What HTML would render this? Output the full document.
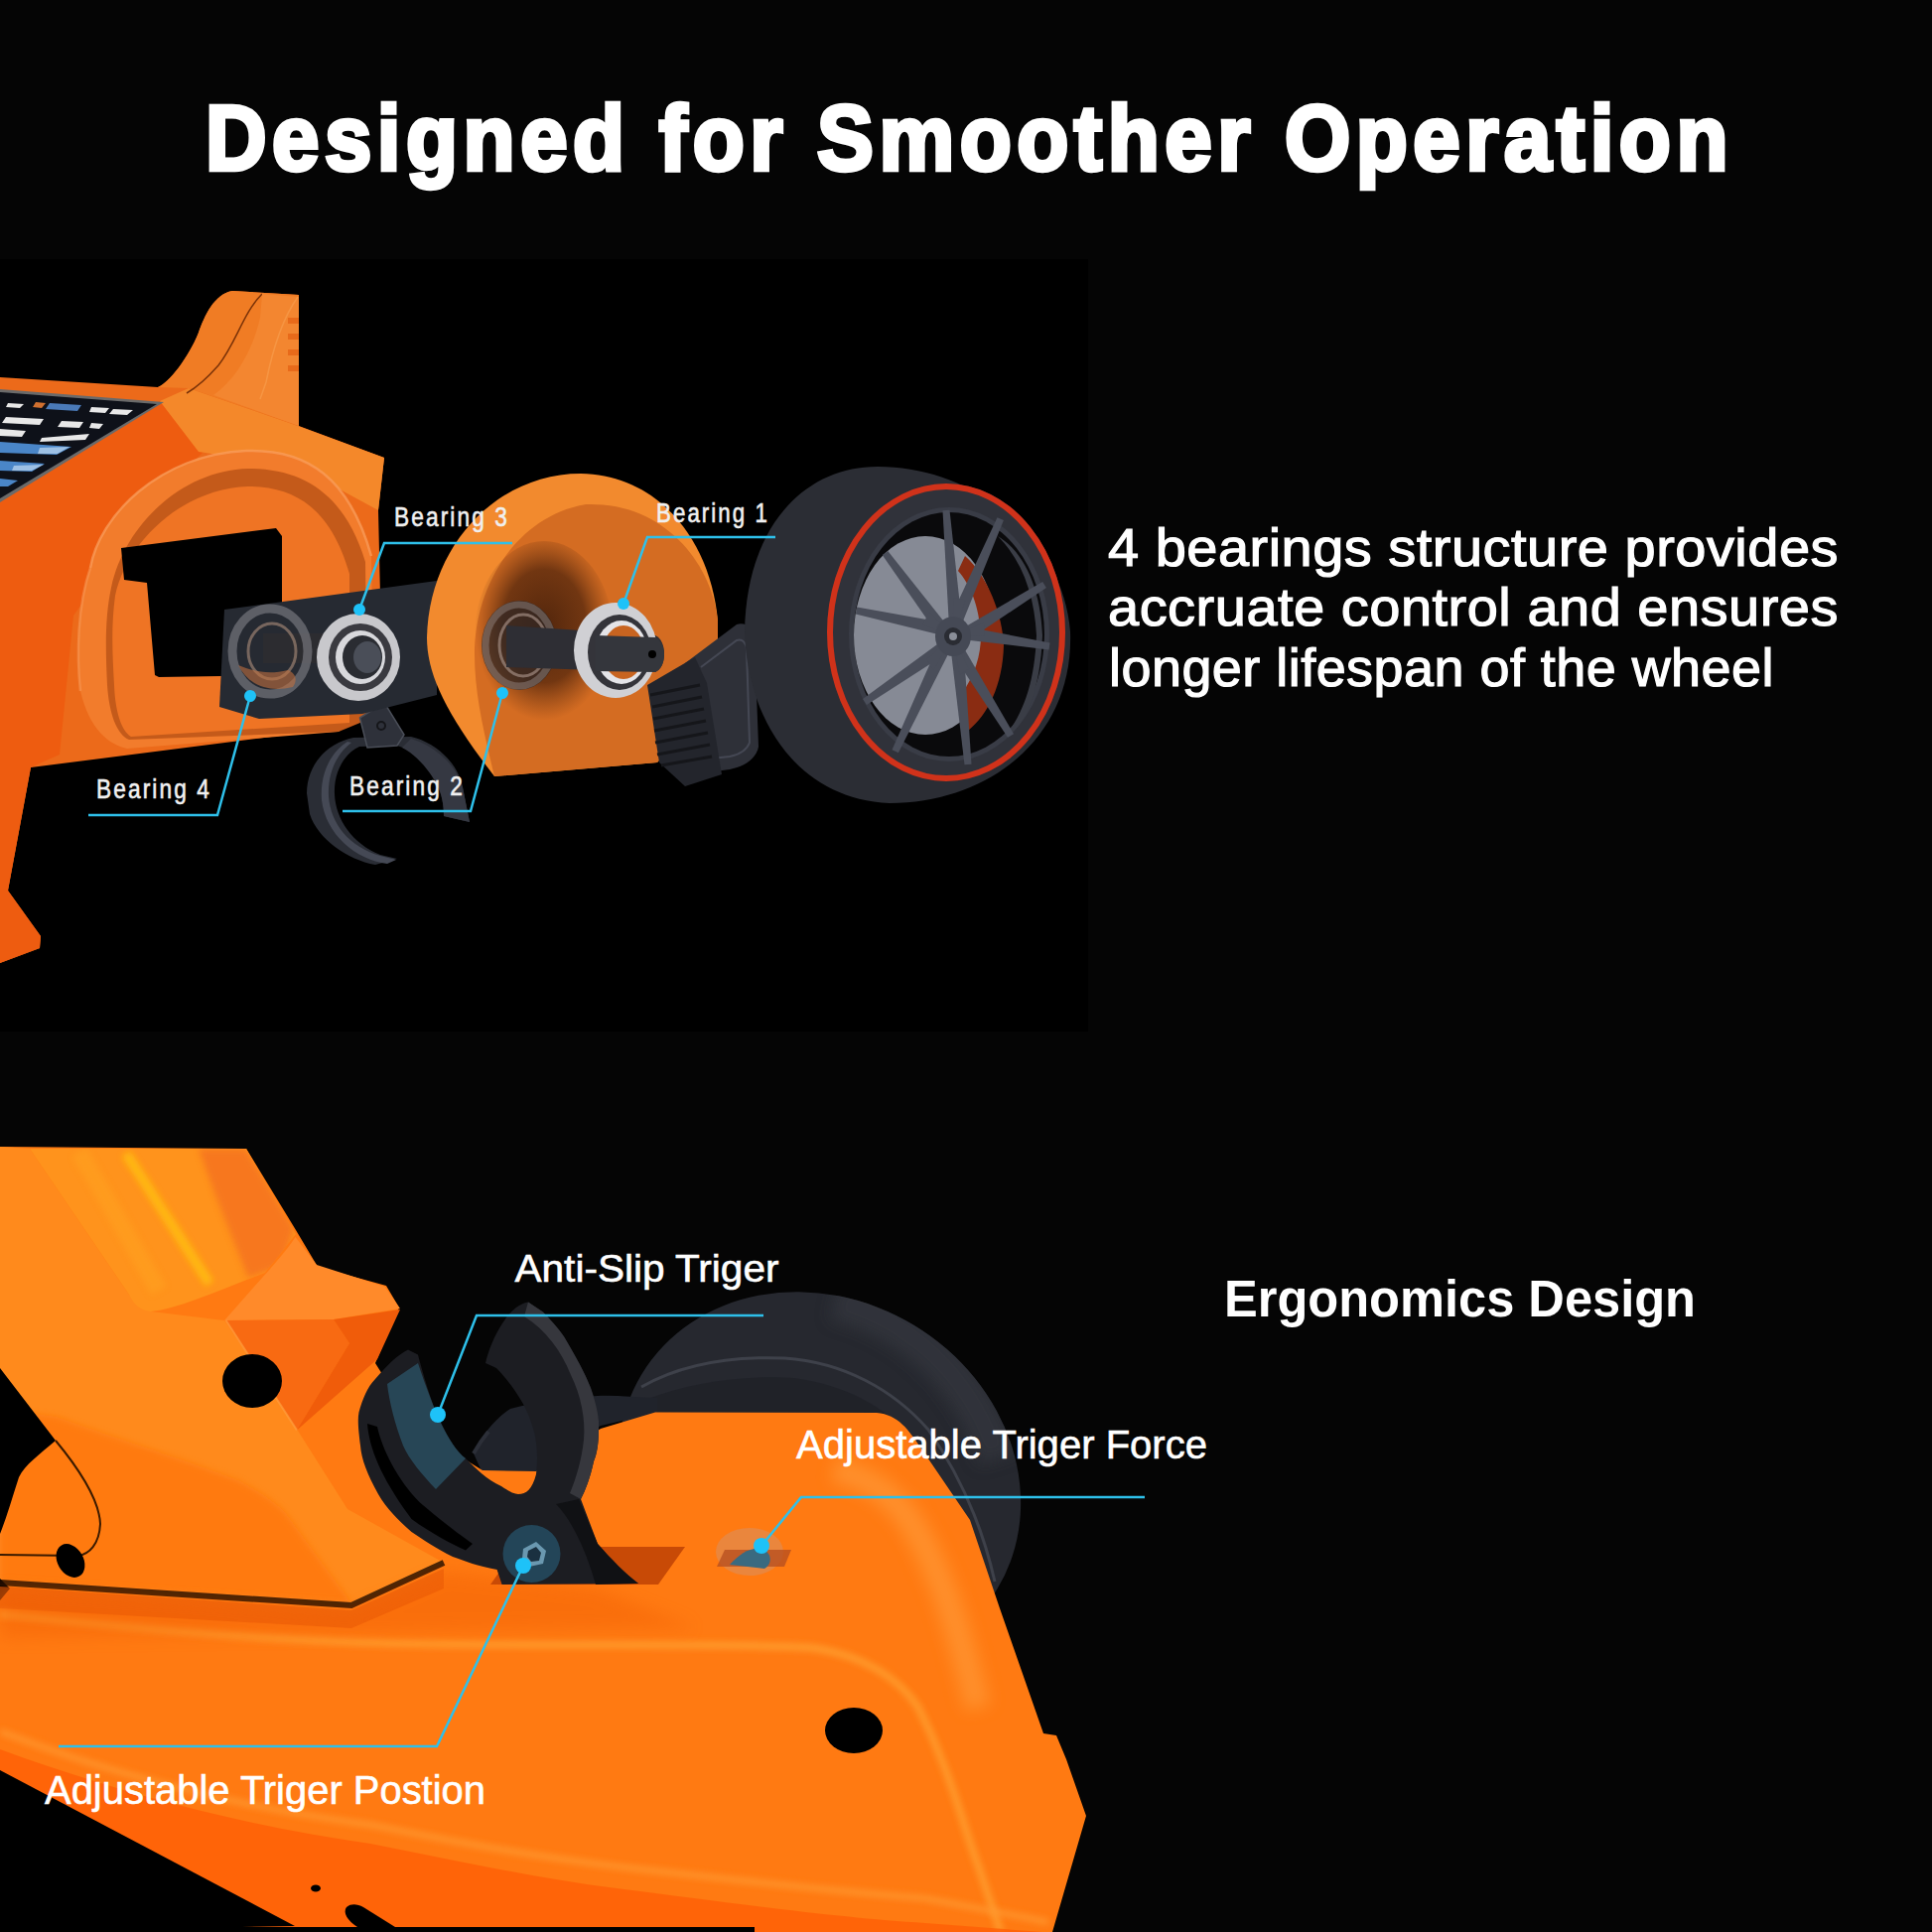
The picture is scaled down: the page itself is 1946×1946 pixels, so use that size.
<!DOCTYPE html>
<html><head><meta charset="utf-8">
<style>
html,body{margin:0;padding:0;background:#050505;width:1946px;height:1946px;overflow:hidden}
svg{display:block}
text{font-family:"Liberation Sans",sans-serif}
</style></head>
<body>
<svg width="1946" height="1946" viewBox="0 0 1946 1946">
<defs>
<radialGradient id="hshadow" cx="0.5" cy="0.45" r="0.5">
<stop offset="0" stop-color="#2a1005" stop-opacity="0.95"/>
<stop offset="0.6" stop-color="#3a1808" stop-opacity="0.8"/>
<stop offset="1" stop-color="#5a2a10" stop-opacity="0"/>
</radialGradient>
<filter id="blur8" x="-50%" y="-50%" width="200%" height="200%"><feGaussianBlur stdDeviation="8"/></filter>
<filter id="blur3" x="-50%" y="-50%" width="200%" height="200%"><feGaussianBlur stdDeviation="3"/></filter>
<clipPath id="tireclip"><ellipse cx="825.3" cy="1492.5" rx="209.2" ry="184.3" transform="rotate(31.1 825.3 1492.5)"/></clipPath>
<clipPath id="panelclip"><path d="M30,1157 L248,1157 L298,1243 L267,1282 C220,1300 180,1318 152,1321 C140,1320 134,1312 130,1304 Z"/></clipPath>
</defs>
<rect x="0" y="0" width="1946" height="1946" fill="#050505"/>
<!-- top photo area -->
<rect x="0" y="261" width="1096" height="778" fill="#000"/>

<g id="upper">
<!-- main body -->
<path d="M0,380 L159,390 C170,386 190,360 200,335 C206,318 216,296 234,293 L301,297 L301,429 L387,461 L381,514 L383,600 L300,620 L345,733 L31,773 L8,897 L41,943 L40,955 L0,970 Z" fill="#ec6a1a"/>
<!-- darker left face -->
<path d="M0,500 L161,404 L230,430 L160,500 L74,620 L60,760 L31,773 L8,897 L41,943 L40,955 L0,970 Z" fill="#ee5c10"/>
<!-- top face lighter -->
<path d="M161,404 L190,391 L300,429 L387,461 L381,514 L300,470 L200,455 Z" fill="#f4882a"/>
<!-- fin -->
<path d="M159,390 C170,386 190,360 200,335 C206,318 216,296 234,293 L301,297 L301,429 L190,391 Z" fill="#f07c24"/>
<path d="M264,296 C245,315 238,345 220,368 C205,385 195,392 188,396" stroke="#7a3208" stroke-width="1.5" fill="none"/>
<path d="M264,296 L301,299 L301,429 L215,398 C240,380 255,350 262,320 Z" fill="#f38630"/>
<path d="M300,299 C285,320 275,350 268,385 L262,402" stroke="#f9a050" stroke-width="1.5" fill="none" opacity="0.6"/>
<g fill="#e86a1a"><rect x="290" y="320" width="11" height="6"/><rect x="290" y="336" width="11" height="6"/><rect x="290" y="352" width="11" height="6"/><rect x="290" y="368" width="11" height="6"/></g>
<!-- screen -->
<path d="M0,392 L165,405 L0,506 Z" fill="#6a6a6a"/>
<path d="M0,395 L158,407 L0,502 Z" fill="#0e1119"/>
<g fill="#e8e8e8">
<path d="M8,406 L24,407 L20,411 L6,410 Z"/>
<path d="M92,410 L110,411 L106,416 L90,415 Z"/>
<path d="M114,412 L134,413 L128,418 L110,417 Z"/>
<path d="M6,420 L44,422 L40,428 L2,426 Z"/>
<path d="M0,432 L26,434 L22,440 L0,439 Z"/>
<path d="M62,424 L84,425 L80,431 L58,430 Z"/>
<path d="M92,426 L104,427 L100,432 L90,431 Z"/>
<path d="M42,441 L90,437 L86,443 L40,445 Z"/>
</g>
<path d="M36,405 L46,406 L42,411 L33,410 Z" fill="#d07030"/>
<path d="M50,406 L82,408 L78,414 L46,412 Z" fill="#4a7ab8"/>
<path d="M0,445 L72,450 L57,458 L0,456 Z" fill="#4a86c8"/>
<path d="M0,464 L45,467 L32,475 L0,474 Z" fill="#4a86c8"/>
<path d="M0,482 L18,484 L8,490 L0,490 Z" fill="#4a86c8"/>
<path d="M40,451 L70,450 L58,457 L38,457 Z" fill="#c0d8f0" opacity="0.7"/>
<path d="M14,469 L44,468 L32,474 L12,474 Z" fill="#c0d8f0" opacity="0.7"/>
<!-- ring recess -->
<path d="M91,572 C100,520 160,458 248,454 C310,452 352,482 374,560 L376,700 L341,737 L128,754 C110,750 90,735 81,696 C77,660 78,610 91,572 Z" fill="#f27c2c"/>
<path d="M91,572 C100,520 160,458 248,454 C310,452 352,482 374,560" stroke="#f9a060" stroke-width="2.5" fill="none" opacity="0.7"/>
<path d="M81,696 C77,660 78,610 91,572" stroke="#f9a060" stroke-width="2.5" fill="none" opacity="0.5"/>
<path d="M112,592 C125,530 182,474 250,472 C308,472 348,500 368,566 L370,725 L341,737 L130,745 C118,740 110,720 108,690 C106,650 106,620 112,592 Z" fill="#c45a1a"/>
<path d="M116,600 C128,545 184,492 250,490 C300,490 334,515 352,578 L352,728 L132,742 C122,736 116,716 115,690 C113,655 112,630 116,600 Z" fill="#ef7424"/>
<!-- rectangular hole -->
<path d="M122,552 L278,532 L284,540 L284,680 L160,682 L156,680 L148,587 L125,584 Z" fill="#000"/>
<!-- trigger C -->
<path d="M309,799 C309,770 330,748 356,743 L414,742 C440,748 462,770 466,793 L473,828 L447,822 C447,810 445,800 440,790 C430,770 415,755 400,751 L362,752 C345,760 336,780 337,800 C338,825 355,850 383,861 L400,865 L378,871 C350,866 320,845 312,820 Z" fill="#2a2d35"/>
<path d="M354,748 C338,760 330,780 331,802 C333,830 352,853 383,862 L399,866 L390,870 C358,866 328,840 324,806 C322,778 334,757 350,747 Z" fill="#454955"/>
<path d="M447,822 C447,810 445,800 440,790 C430,772 418,760 405,753 L414,744 C440,752 460,772 466,793 L473,828 Z" fill="#353842"/>
<path d="M362.5,723 L387,707.6 L407,740 L400,751 L370,753 Z" fill="#2e313a" stroke="#4a4e58" stroke-width="1.5"/>
<circle cx="384" cy="731" r="4" fill="none" stroke="#15161a" stroke-width="2"/>
<!-- block -->
<path d="M226,614 L440,585 L440,700 L365,719 L261,724 L221,712 Z" fill="#262a32"/>
<!-- bearing 4 (transparent) -->
<rect x="265" y="638" width="100" height="30" fill="#2c2c30"/>
<ellipse cx="272" cy="656" rx="38" ry="43" fill="none" stroke="#8a8a92" stroke-width="9" opacity="0.55"/>
<ellipse cx="274" cy="656" rx="24" ry="28" fill="none" stroke="#9a8070" stroke-width="3" opacity="0.7"/>
<path d="M240,670 C250,690 270,698 295,692 C300,685 298,678 290,675 C270,680 255,676 240,670 Z" fill="#c07040" opacity="0.6"/>
<!-- bearing 3 -->
<ellipse cx="361" cy="662" rx="42" ry="44" fill="#c8c8cc"/>
<ellipse cx="363" cy="662" rx="32" ry="34" fill="#3a3a40"/>
<ellipse cx="363" cy="662" rx="25" ry="27" fill="#d8d8dc"/>
<ellipse cx="365" cy="662" rx="20" ry="22" fill="#2a2c32"/>
<ellipse cx="370" cy="662" rx="14" ry="16" fill="#4a4e58"/>
<!-- housing -->
<path d="M585,477 C660,478 715,540 723,625 L723,700 L662,768 L498,782 C450,720 430,680 430,642 C432,550 500,477 585,477 Z" fill="#f28a2e"/>
<path d="M590,508 C670,505 718,570 723,625 L723,700 L662,768 L498,782 C488,740 478,700 478,659 C478,590 520,520 590,508 Z" fill="#d46c22"/>
<ellipse cx="548" cy="640" rx="70" ry="95" fill="url(#hshadow)" opacity="0.8"/>
<!-- bearing 2 -->
<ellipse cx="523" cy="650" rx="38" ry="45" fill="#2c2626" opacity="0.7"/>
<ellipse cx="523" cy="650" rx="34" ry="41" fill="none" stroke="#9a8c88" stroke-width="7" opacity="0.45"/>
<ellipse cx="527" cy="650" rx="24" ry="31" fill="none" stroke="#a08a80" stroke-width="3" opacity="0.7"/>
<!-- shaft -->
<path d="M510,630 L660,640 C672,645 672,672 660,677 L510,672 Z" fill="#2e2e34"/>
<!-- bearing 1 -->
<ellipse cx="620" cy="655" rx="42" ry="48" fill="#d0d0d4"/>
<ellipse cx="624" cy="657" rx="32" ry="38" fill="#34343a"/>
<ellipse cx="626" cy="657" rx="26" ry="32" fill="#e4e4e8"/>
<ellipse cx="628" cy="657" rx="21" ry="27" fill="#c86420"/>
<path d="M600,640 L660,642 C672,647 672,672 660,677 L600,676 Z" fill="#34363c"/>
<circle cx="657" cy="659" r="4" fill="#000"/>
<!-- gear knuckle -->
<path d="M690,668 L742,629 C752,626 760,634 760,645 L764,752 C762,764 750,772 735,775 L712,778 L700,690 Z" fill="#2e3038"/>
<path d="M706,672 L742,645 C748,643 752,648 752,655 L755,748 C752,756 745,760 735,762 L716,764" stroke="#454854" stroke-width="2" fill="none"/>
<path d="M652,690 L700,662 L712,688 L727,780 L690,792 L664,768 Z" fill="#23252c"/>
<g stroke="#15161a" stroke-width="3">
<line x1="655" y1="700" x2="705" y2="690"/><line x1="657" y1="712" x2="707" y2="702"/><line x1="658" y1="724" x2="709" y2="714"/>
<line x1="659" y1="736" x2="711" y2="726"/><line x1="660" y1="748" x2="713" y2="738"/><line x1="662" y1="760" x2="715" y2="750"/>
<line x1="666" y1="771" x2="717" y2="762"/>
</g>
<!-- tire -->
<path d="M884,470 C980,470 1070,540 1078,636 C1082,740 1000,808 896,809 C800,805 752,720 750,636 C752,530 810,470 884,470 Z" fill="#2b2d34"/>
<ellipse cx="953" cy="637" rx="120" ry="150" fill="#30323a"/>
<ellipse cx="953" cy="637" rx="117" ry="147" fill="none" stroke="#d0321a" stroke-width="6"/>
<ellipse cx="956" cy="639" rx="101" ry="128" fill="#393c46"/>
<ellipse cx="956" cy="639" rx="96" ry="123" fill="#0a0a0c"/>
<path d="M1005,540 C1030,565 1042,600 1044,640 C1042,690 1030,720 1010,745 C1030,735 1048,700 1050,640 C1048,590 1030,555 1005,540 Z" fill="#3a3d46"/>
<ellipse cx="932" cy="640" rx="72" ry="100" fill="#868a95"/>
<path d="M972,560 C995,580 1010,620 1011,650 C1010,690 995,720 975,736 L968,700 C982,680 988,660 988,640 C986,610 978,590 965,575 Z" fill="#8a2c12"/>
<g fill="#4a4e5a"><path d="M968.8,626.7 L956.5,513.7 L949.5,514.3 L955.8,627.7 Z"/><path d="M968.3,629.8 L1010.9,524.1 L1004.5,521.3 L956.3,624.6 Z"/><path d="M960.0,641.0 L960.2,602.3 L972.3,604.2 Z"/><path d="M977.1,643.5 L1053.9,592.0 L1050.1,586.0 L970.2,632.5 Z"/><path d="M972.7,644.4 L1056.5,654.5 L1057.5,647.5 L974.7,631.5 Z"/><path d="M960.0,641.0 L990.9,627.2 L992.0,640.8 Z"/><path d="M958.7,657.8 L1015.0,742.8 L1021.0,739.2 L969.8,650.9 Z"/><path d="M957.8,654.9 L971.5,770.3 L978.5,769.7 L970.7,653.7 Z"/><path d="M960.0,641.0 L976.1,673.4 L966.6,679.8 Z"/><path d="M945.3,649.1 L898.5,755.2 L904.9,758.2 L957.1,654.7 Z"/><path d="M947.5,646.5 L869.0,704.1 L873.0,709.9 L954.9,657.2 Z"/><path d="M960.0,641.0 L940.3,674.9 L933.5,664.0 Z"/><path d="M949.7,626.9 L863.2,611.6 L861.8,618.4 L947.0,639.6 Z"/><path d="M953.5,629.4 L894.3,554.9 L888.7,559.1 L943.1,637.2 Z"/><path d="M960.0,641.0 L929.4,629.2 L935.8,616.5 Z"/></g>
<ellipse cx="960" cy="641" rx="18" ry="20" fill="#454955"/>
<circle cx="960" cy="641" r="9" fill="#2a2c33"/>
<circle cx="960" cy="641" r="4" fill="#8a8e98"/>
</g>

<g id="lower">
<!-- back tire -->
<ellipse cx="825.3" cy="1492.5" rx="209.2" ry="184.3" transform="rotate(31.1 825.3 1492.5)" fill="#26282f"/>
<g clip-path="url(#tireclip)"><path d="M840,1310 C920,1330 980,1390 1005,1470" stroke="#383a43" stroke-width="40" fill="none" opacity="0.6" filter="url(#blur8)"/></g>
<path d="M646,1397 C690,1372 740,1366 790,1368 C850,1372 900,1400 935,1440 C970,1490 990,1540 1002,1593" stroke="#3e414a" stroke-width="3" fill="none"/>
<path d="M650,1410 C700,1390 760,1385 800,1388 C850,1395 890,1415 920,1450 C950,1500 975,1560 990,1600 L700,1600 Z" fill="#1c1e24" opacity="0.6"/>
<!-- arm connecting trigger to tire -->
<path d="M477,1464 C485,1445 500,1428 514,1419 C540,1412 570,1408 602,1406 C620,1405 640,1408 662,1408 L662,1423 L605,1436 C580,1450 560,1470 540,1484 L486,1484 Z" fill="#20232b"/>
<path d="M477,1464 C482,1455 487,1448 492,1442" stroke="#2c2f38" stroke-width="4" fill="none"/>
<!-- lower body -->
<path d="M0,1155 L248,1157 L298,1239 L320,1276 L389,1295 L402,1317 L378,1373 L420,1440 L486,1481 L540,1482 L605,1439 L660,1422.5 L883,1423 C905,1425 915,1440 928,1459 L977,1531 L1007,1620 L1051,1746 L1064,1748 L1074,1772 L1094,1829 L1060,1946 L0,1946 Z" fill="#ff7a12"/>
<!-- left lighter region -->
<path d="M0,1155 L30,1157 L130,1304 L152,1321 L226,1330 L300,1441 L350,1520 L447,1574 L354,1617 L0,1596 Z" fill="#ff8a1c"/>
<!-- carbon panel -->
<path d="M30,1157 L248,1157 L298,1243 L267,1282 C220,1300 180,1318 152,1321 C140,1320 134,1312 130,1304 Z" fill="#ff931c"/>
<g clip-path="url(#panelclip)">
<path d="M127,1162 L211,1293" stroke="#ffc410" stroke-width="10" opacity="0.75" filter="url(#blur3)"/>
<path d="M80,1160 L160,1300" stroke="#ffa820" stroke-width="18" opacity="0.4" filter="url(#blur3)"/>
<path d="M200,1157 L248,1157 L296,1237 L284,1275 L250,1287 C235,1250 215,1200 200,1157 Z" fill="#f06222" opacity="0.55" filter="url(#blur3)"/>
</g>

<!-- nose block faces -->
<path d="M226,1330 L258.7,1293 C275,1275 290,1258 297.5,1246 L319,1274 L387.6,1296 L403,1318 L336,1329 Z" fill="#ff8a2a"/>
<path d="M227.6,1330 L336,1329 L352,1353 L299,1440.5 Z" fill="#f86a12"/>
<path d="M336,1329 L403,1319 L380,1369 L299,1440.5 L352,1353 Z" fill="#f05c0a"/>
<path d="M227.6,1330 L299,1440.5" stroke="#ffa040" stroke-width="2" opacity="0.7"/>
<ellipse cx="254" cy="1391" rx="30" ry="27" fill="#000"/>
<path d="M56,1427 C120,1450 200,1475 242,1492 C265,1505 280,1515 289,1526 L354,1615 L0,1594 L0,1420 Z" fill="#ff7810" opacity="0.85" filter="url(#blur3)"/>
<!-- left wedge black -->
<path d="M0,1378 L56,1451 C40,1465 25,1475 19,1488 C12,1510 6,1530 0,1545 Z" fill="#000"/>
<path d="M0,1590 L10,1600 L0,1612 Z" fill="#000"/>
<!-- grip outline -->
<path d="M56,1451 C80,1480 100,1510 101,1535 C100,1555 90,1566 78,1567 L0,1566" stroke="#3a1a00" stroke-width="2" fill="none"/>
<ellipse cx="71" cy="1572" rx="13" ry="18" transform="rotate(-30 71 1572)" fill="#000"/>
<!-- shadow line -->
<path d="M0,1594 L354,1617 L447,1574" stroke="#1a0a00" stroke-width="6" fill="none" opacity="0.8"/>
<path d="M0,1598 L354,1622 L447,1580 L447,1600 L354,1640 L0,1620 Z" fill="#e85a08" opacity="0.6"/>
<!-- panel outline -->
<path d="M0,1626 C150,1642 300,1655 435,1656 C600,1658 760,1655 820,1660 C870,1668 905,1690 925,1720 C945,1760 960,1800 975,1850 L1008,1946" stroke="#ffa535" stroke-width="7" fill="none" opacity="0.75" filter="url(#blur3)"/>
<path d="M0,1744 C120,1790 250,1822 373,1838 C460,1856 540,1870 621,1880 C760,1896 850,1906 932,1912 L1056,1936" stroke="#ff9a30" stroke-width="6" fill="none" opacity="0.8" filter="url(#blur3)"/>
<path d="M0,1762 C120,1806 250,1840 373,1857 C460,1874 540,1892 621,1902 C760,1920 850,1932 932,1937 L1050,1946 L0,1946 Z" fill="#ff5e05" opacity="0.75"/>
<path d="M0,1600 L354,1625 L447,1583 L600,1600 L700,1640 L0,1650 Z" fill="#f05a05" opacity="0.35" filter="url(#blur8)"/>
<!-- top-right rounded corner highlight -->
<path d="M840,1480 C880,1490 905,1510 925,1545 C950,1590 965,1640 985,1720" stroke="#ffa040" stroke-width="26" fill="none" opacity="0.55" filter="url(#blur8)"/>
<!-- lower-right hole -->
<ellipse cx="860" cy="1743" rx="29" ry="23" fill="#000"/>
<!-- bottom-left black triangle -->
<path d="M0,1783 L297,1940 L0,1946 Z" fill="#000"/>
<rect x="0" y="1941" width="760" height="5" fill="#000"/>
<path d="M349,1921 C354,1917 360,1918 366,1921 L398,1941 L360,1941 C350,1935 345,1926 349,1921 Z" fill="#000"/>
<ellipse cx="318" cy="1902" rx="5" ry="3.5" fill="#000"/>
<!-- slots -->
<path d="M521,1558 L690,1558 L663,1596 L494,1596 Z" fill="#c84a06"/>
<ellipse cx="755" cy="1563" rx="34" ry="24" fill="#d89060" opacity="0.55"/>
<path d="M730,1561 L797,1561 L790,1578 L722,1578 Z" fill="#b85020" opacity="0.8"/>
<path d="M735,1576 C745,1565 755,1558 768,1560 C778,1565 778,1575 770,1580 Z" fill="#3a6a80"/>
<!-- trigger -->
<path d="M411,1359.5 L421,1364.5 C425,1380 435,1415 443,1431 C452,1450 462,1465 469,1469 C480,1480 490,1490 505,1497 C512,1502 518,1505 522,1505 C530,1505 536,1500 540,1485 C542,1470 541,1450 537,1439 C533,1425 528,1415 522,1406 C515,1395 507,1385 500,1378 L489,1373 C492,1360 498,1345 506,1333 C512,1323 522,1313 532,1311.5 L547,1321.5 C560,1335 568,1345 572,1353 C585,1375 592,1390 595,1398 C601,1415 604,1430 603,1439 C603,1455 601,1465 598,1472 C594,1490 590,1500 585,1510 L602,1555 C615,1570 630,1585 643,1595 L505.6,1596 L500.6,1581 C480,1577 470,1573 456,1568 C440,1560 425,1550 414.5,1543 C400,1530 388,1518 381,1505 C370,1485 364,1470 363,1456 C361,1440 360,1430 361.5,1422.5 C365,1410 370,1397 378,1389 C390,1375 400,1365 411,1359.5 Z" fill="#1c1d22"/>
<path d="M532,1311.5 L547,1321.5 C560,1335 568,1345 572,1353 C585,1375 592,1390 595,1398 C601,1415 604,1430 603,1439 C603,1455 601,1465 598,1472 C594,1490 590,1500 585,1510 L574,1504 C580,1490 586,1470 588,1450 C590,1430 585,1405 575,1385 C565,1360 550,1340 528,1326 Z" fill="#36373d"/>
<path d="M370,1434 C372,1460 385,1490 414.5,1530 C435,1545 455,1555 469,1561.6 L476,1555 C455,1540 440,1528 423,1513.6 C400,1490 385,1460 380,1437 Z" fill="#000"/>
<path d="M390,1394 L421,1373 C430,1400 438,1420 443,1431 C452,1450 460,1462 469,1469 L439,1500 C425,1485 412,1470 406,1456 C398,1435 392,1412 390,1394 Z" fill="#274656"/>
<path d="M583,1510 L602,1555 C615,1570 630,1585 643,1595 L600,1596 C590,1560 575,1530 560,1515 Z" fill="#101114"/>
<circle cx="535.5" cy="1565" r="29" fill="#234558"/>
<path d="M527,1560 L540,1553 L550,1562 L547,1575 L533,1578 L526,1570 Z" fill="#6a98b0"/>
<path d="M532,1562 L540,1558 L545,1564 L543,1572 L535,1573 L531,1568 Z" fill="#1a3040"/>
</g>

<!-- TEXT -->
<text x="207" y="171" font-size="93" font-weight="bold" fill="#fff" stroke="#fff" stroke-width="4.5" letter-spacing="6" textLength="1539" lengthAdjust="spacingAndGlyphs">Designed for Smoother Operation</text>

<g fill="#fff" stroke="#fff" stroke-width="1.2" font-size="54" letter-spacing="0.5">
<text x="1116" y="569.5" textLength="736" lengthAdjust="spacingAndGlyphs">4 bearings structure provides</text>
<text x="1116" y="630" textLength="736" lengthAdjust="spacingAndGlyphs">accruate control and ensures</text>
<text x="1117" y="691" textLength="670" lengthAdjust="spacingAndGlyphs">longer lifespan of the wheel</text>
</g>

<text x="1233" y="1326" font-size="51" font-weight="bold" fill="#fff" textLength="475" lengthAdjust="spacingAndGlyphs">Ergonomics Design</text>
<text x="518.5" y="1290.5" font-size="39" fill="#fff" stroke="#fff" stroke-width="0.6" textLength="266" lengthAdjust="spacingAndGlyphs">Anti-Slip Triger</text>
<text x="802" y="1469" font-size="41" fill="#fff" stroke="#fff" stroke-width="0.6" textLength="414" lengthAdjust="spacingAndGlyphs">Adjustable Triger Force</text>
<text x="45" y="1817" font-size="41" fill="#fff" stroke="#fff" stroke-width="0.6" textLength="444" lengthAdjust="spacingAndGlyphs">Adjustable Triger Postion</text>

<g fill="#f0f0f0" stroke="#f0f0f0" stroke-width="0.6" font-size="27" letter-spacing="2.5">
<text x="397" y="530" textLength="116" lengthAdjust="spacingAndGlyphs">Bearing 3</text>
<text x="97" y="804" textLength="116" lengthAdjust="spacingAndGlyphs">Bearing 4</text>
<text x="352" y="801" textLength="116" lengthAdjust="spacingAndGlyphs">Bearing 2</text>
<text x="661" y="526" textLength="114" lengthAdjust="spacingAndGlyphs">Bearing 1</text>
</g>

<!-- callout lines -->
<g stroke="#2ec0ea" stroke-width="2.5" fill="none">
<polyline points="516,547 387,547 362,614"/>
<polyline points="781,541 652,541 628,608"/>
<polyline points="89,821 219,821 252,701"/>
<polyline points="345,817 474,817 506,698"/>
<polyline points="769,1325 480,1325 441,1425"/>
<polyline points="1153,1508 807,1508 767,1557"/>
<polyline points="59,1759 440,1759 527,1577"/>
</g>
<g fill="#1ec2f8">
<circle cx="362" cy="614" r="6"/>
<circle cx="628" cy="608" r="6"/>
<circle cx="252" cy="701" r="6"/>
<circle cx="506" cy="698" r="6"/>
<circle cx="441" cy="1425" r="8"/>
<circle cx="767" cy="1557" r="8"/>
<circle cx="527" cy="1577" r="8"/>
</g>
</svg>
</body></html>
